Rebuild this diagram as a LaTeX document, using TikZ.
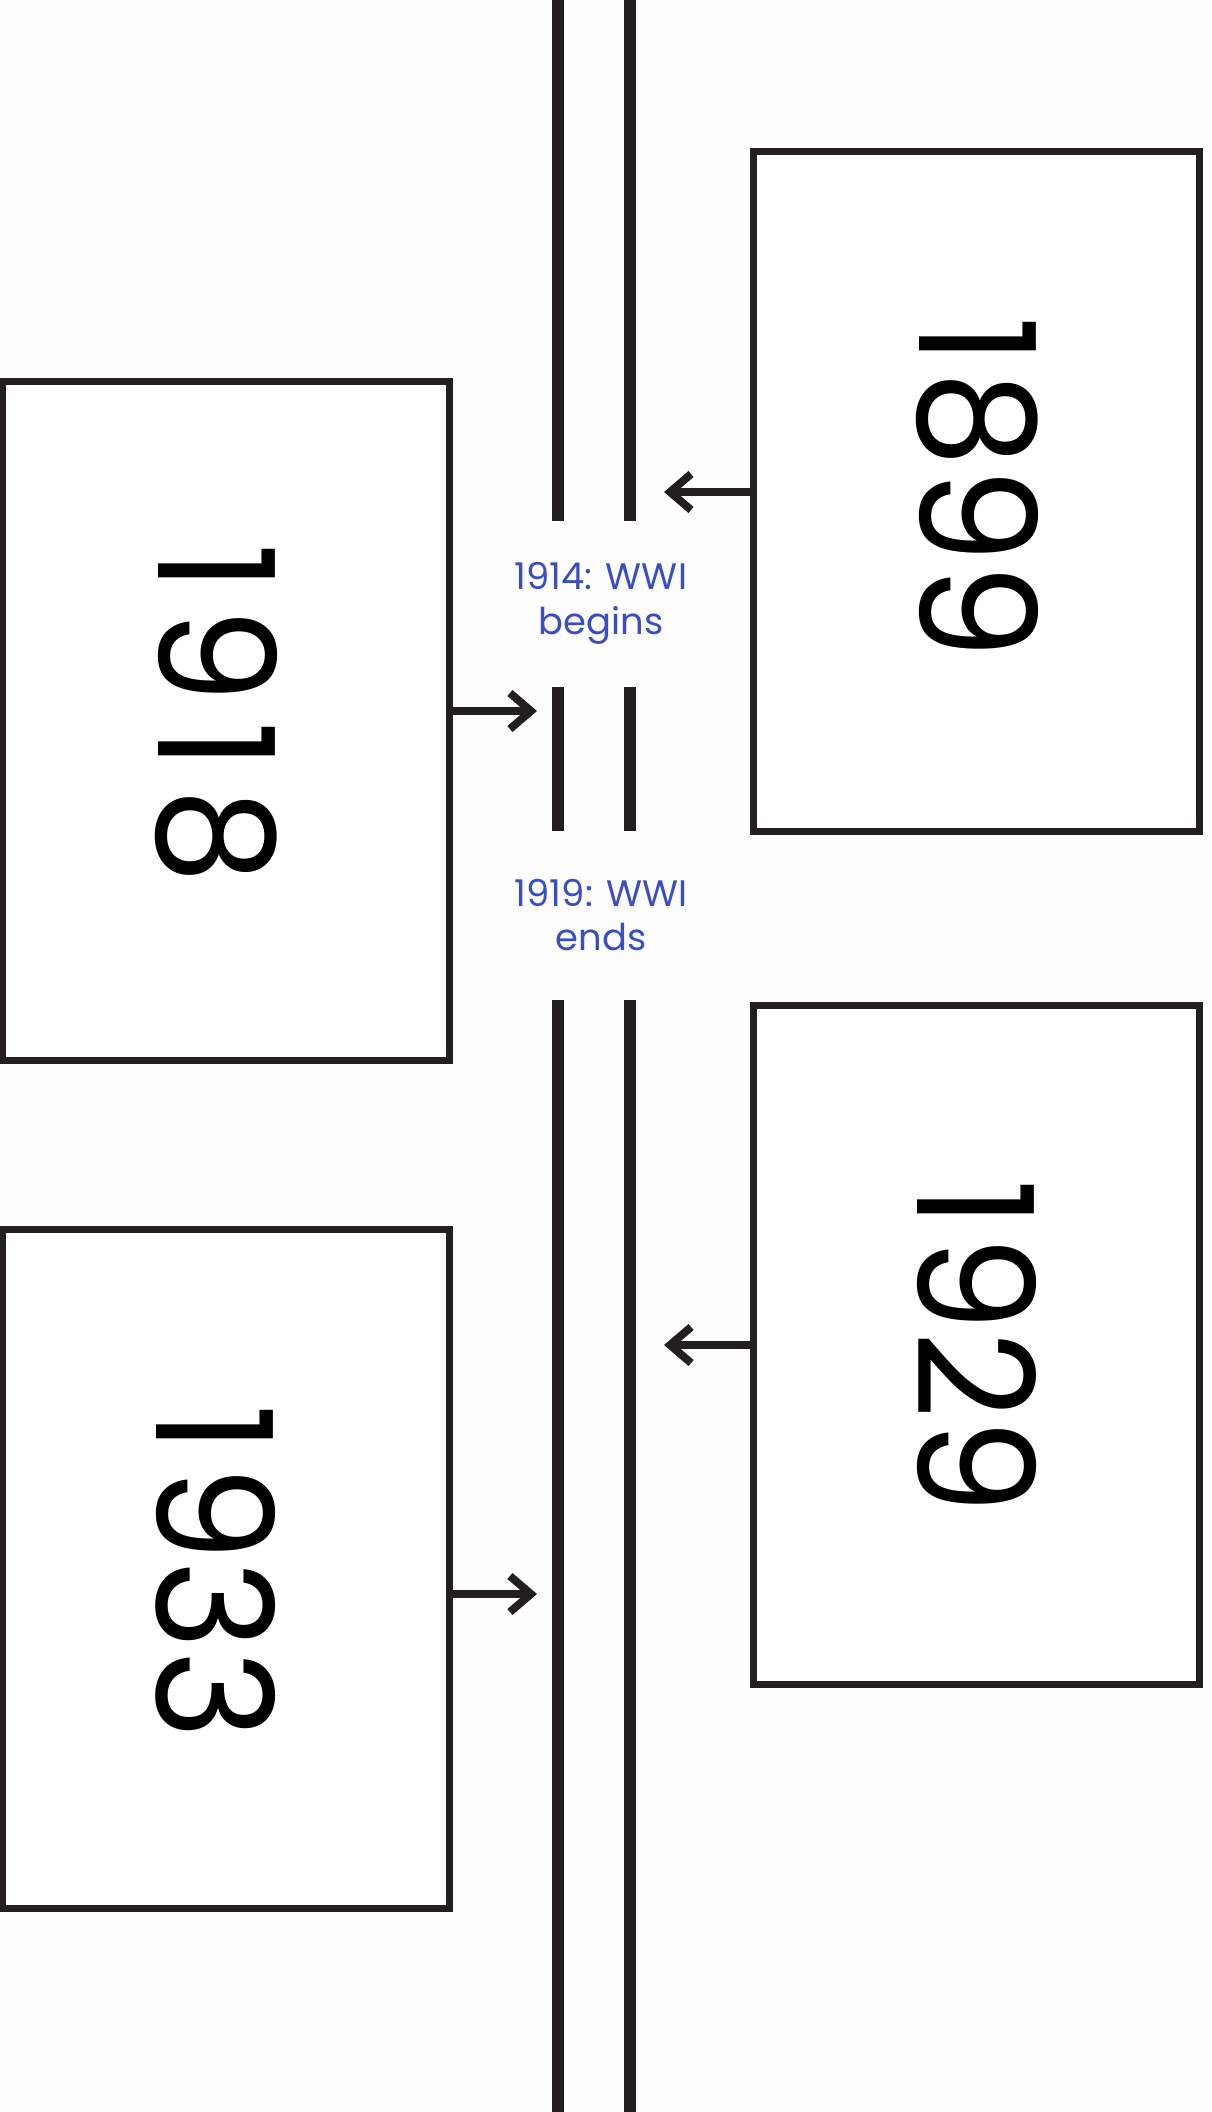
\documentclass[tikz,border=0pt]{standalone}
\usepackage{fontspec}
\setmainfont{Poppins}
\newfontfamily\yearfont{Poppins}
\usetikzlibrary{arrows.meta}
\definecolor{ink}{RGB}{35,31,32}
\definecolor{lbl}{RGB}{58,78,196}
\definecolor{bg}{RGB}{253,253,253}
\begin{document}
\begin{tikzpicture}[x=0.02cm,y=-0.02cm,
  yearbox/.style={draw=ink, line width=4pt, fill=white, inner sep=0pt, minimum width=8.94cm, minimum height=13.6cm},
  yeartext/.style={rotate=-90, inner sep=0pt, text=black, font=\yearfont\fontsize{92}{96}\selectfont},
  eventlbl/.style={align=center, text=lbl, inner sep=0pt, font=\fontsize{21}{25.5}\selectfont},
  tline/.style={draw=ink, line width=6.3pt},
  linkarrow/.style={draw=ink, line width=4.5pt, -{Straight Barb[sharp,length=0.42cm,width=0.72cm,line width=4.5pt]}}]
\fill[bg] (0,0) rectangle (1211,2112);
\useasboundingbox (0,0) rectangle (1211,2112);
% timeline
\coordinate (la) at (558,0);     \coordinate (lb) at (558,521);
\coordinate (lc) at (558,687);   \coordinate (ld) at (558,831);
\coordinate (le) at (558,1000);  \coordinate (lf) at (558,2112);
\coordinate (ra) at (630,0);     \coordinate (rb) at (630,521);
\coordinate (rc) at (630,687);   \coordinate (rd) at (630,831);
\coordinate (re) at (630,1000);  \coordinate (rf) at (630,2112);
\draw[tline] (la) -- (lb) (lc) -- (ld) (le) -- (lf);
\draw[tline] (ra) -- (rb) (rc) -- (rd) (re) -- (rf);
% boxes
\node[yearbox] (b1899) at (976.5,491.5) {};
\node[yearbox] (b1918) at (226,721) {};
\node[yearbox] (b1929) at (976.5,1345) {};
\node[yearbox] (b1933) at (226,1569) {};
\node[yeartext] (t1899) at (977,488) {\scalebox{0.94}[1]{1\kern.04em 899}};
\node[yeartext] (t1918) at (216,714) {\scalebox{0.94}[1]{1\kern.1em 9\kern.12em 1\kern.12em 8}};
\node[yeartext] (t1929) at (977,1347) {\scalebox{0.94}[1]{1\kern.05em 929}};
\node[yeartext] (t1933) at (216,1572) {\scalebox{0.94}[1]{1\kern.08em 933}};
% labels
\node[eventlbl] (ev1914) at (601,603) {1914: WWI\\begins};
\node[eventlbl] (ev1919) at (601,915) {1919: WWI\\ends};
% arrows
\coordinate (e1899) at (664,492);
\coordinate (e1918) at (537,711);
\coordinate (e1929) at (664,1345);
\coordinate (e1933) at (537,1594);
\draw[linkarrow] (b1899.west |- e1899) -- (e1899);
\draw[linkarrow] (b1918.east |- e1918) -- (e1918);
\draw[linkarrow] (b1929.west |- e1929) -- (e1929);
\draw[linkarrow] (b1933.east |- e1933) -- (e1933);
\end{tikzpicture}
\end{document}
